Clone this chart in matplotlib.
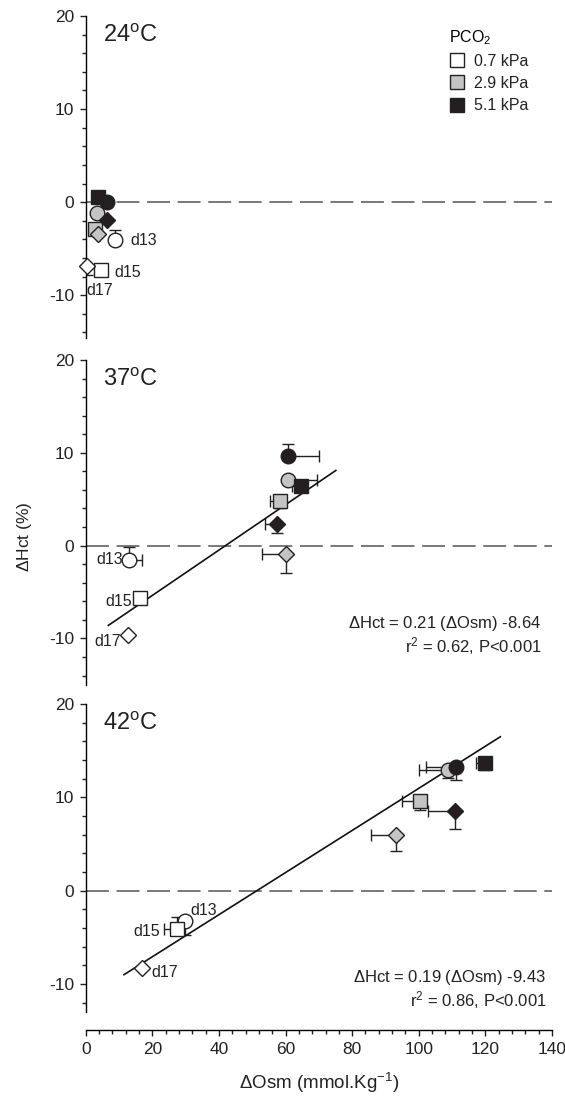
import matplotlib
matplotlib.use('Agg')
import matplotlib.pyplot as plt
from matplotlib.lines import Line2D
from matplotlib.ticker import MultipleLocator

plt.rcParams['font.family'] = ['Liberation Sans', 'DejaVu Sans']
plt.rcParams['mathtext.fontset'] = 'custom'
plt.rcParams['mathtext.rm'] = 'Liberation Sans'
plt.rcParams['mathtext.it'] = 'Liberation Sans:italic'
plt.rcParams['axes.unicode_minus'] = False

# rows: d13 (circle), d15 (square), d17 (diamond); columns: PCO2 0.7, 2.9, 5.1 kPa
days = ['d13', 'd15', 'd17']
pco2_labels = ['0.7 kPa', '2.9 kPa', '5.1 kPa']

osm_24 = [[8.8, 3.3, 6.3], [4.5, 2.8, 3.8], [0.5, 3.8, 6.3]]
hct_24 = [[-4.1, -1.15, 0.0], [-7.3, -2.9, 0.5], [-6.9, -3.4, -1.9]]
osm_err_24 = [[1.5, 0, 0], [0, 0, 0], [0, 0, 0]]
hct_err_24 = [[1.1, 0, 0.3], [0, 0, 0.5], [-0.9, 0, 0]]

osm_37 = [[13.0, 60.6, 60.8], [16.3, 58.3, 64.6], [12.8, 60.0, 57.5]]
hct_37 = [[-1.5, 7.1, 9.7], [-5.6, 4.8, 6.4], [-9.6, -0.9, 2.3]]
osm_err_37 = [[3.8, 8.7, 9.3], [0, -3.0, -2.8], [0, -7.0, -3.7]]
hct_err_37 = [[1.3, 0, 1.2], [0, -0.8, 0], [0, -2.0, -0.9]]

osm_42 = [[29.8, 108.8, 111.3], [27.5, 100.5, 119.8], [17.0, 93.1, 111.0]]
hct_42 = [[-3.3, 12.9, 13.3], [-4.1, 9.6, 13.7], [-8.3, 6.0, 8.5]]
osm_err_42 = [[0, -8.7, -9.0], [-4.0, -5.4, -2.5], [0, -7.3, -8.2]]
hct_err_42 = [[-1.5, -0.8, -1.4], [1.3, -0.9, -0.8], [0, -1.7, -1.9]]

fit_37_x = [6.8, 75.1]
fit_37_y = [-8.6, 8.1]
fit_42_x = [11.5, 124.5]
fit_42_y = [-9.0, 16.5]

temps = ['24', '37', '42']

markers = ['o', 's', 'D']
msizes = [10.5, 9.8, 8.3]
fills = ['white', '#c4c4c4', '#231f20']

fig = plt.figure(figsize=(5.65, 10.96), dpi=100)
W, H = 565.0, 1096.0
left = 85.7 / W
width = (552.0 - 85.7) / W

# (top px, bottom px, ylim bottom)
panel_px = [(16.0, 338.0, -14.6), (360.0, 684.8, -15.0), (704.1, 1012.0, -13.0)]
axes = []
for top, bot, ymin in panel_px:
    ax = fig.add_axes([left, 1 - bot / H, width, (bot - top) / H])
    ax.set_xlim(0, 140)
    ax.set_ylim(ymin, 20)
    for s in ['top', 'right']:
        ax.spines[s].set_visible(False)
    ax.spines['left'].set_linewidth(1.0)
    ax.yaxis.set_major_locator(MultipleLocator(10))
    ax.yaxis.set_minor_locator(MultipleLocator(2))
    ax.tick_params(axis='y', which='major', direction='out', length=4.5, width=1.0,
                   labelsize=12.5, pad=4, colors='#222222')
    ax.tick_params(axis='y', which='minor', direction='out', length=3, width=1.0, colors='#222222')
    ax.axhline(0, color='#555555', lw=1.1, dashes=(15, 5))
    axes.append(ax)

for ax in axes[:2]:
    ax.spines['bottom'].set_visible(False)
    ax.tick_params(axis='x', which='both', bottom=False, labelbottom=False)

axb = axes[2]
axb.spines['bottom'].set_position(('outward', 13))
axb.spines['bottom'].set_linewidth(1.0)
axb.xaxis.set_major_locator(MultipleLocator(20))
axb.xaxis.set_minor_locator(MultipleLocator(4))
axb.tick_params(axis='x', which='major', direction='out', length=4.5, width=1.0,
                labelsize=12.5, pad=4, colors='#222222')
axb.tick_params(axis='x', which='minor', direction='out', length=3, width=1.0, colors='#222222')

data = [(osm_24, hct_24, osm_err_24, hct_err_24),
        (osm_37, hct_37, osm_err_37, hct_err_37),
        (osm_42, hct_42, osm_err_42, hct_err_42)]

for ax, (xs, ys, xe, ye) in zip(axes, data):
    for i in range(3):
        for j in range(3):
            ex, ey = xe[i][j], ye[i][j]
            xerr = [[max(-ex, 0)], [max(ex, 0)]] if ex != 0 else None
            yerr = [[max(-ey, 0)], [max(ey, 0)]] if ey != 0 else None
            if xerr is not None or yerr is not None:
                ax.errorbar([xs[i][j]], [ys[i][j]], xerr=xerr, yerr=yerr, fmt='none',
                            ecolor='#222222', elinewidth=1.0, capsize=4, capthick=1.0, zorder=2)
            ax.plot(xs[i][j], ys[i][j], marker=markers[i], ms=msizes[i], mfc=fills[j],
                    mec='#222222', mew=1.0, ls='none', zorder=3 + j, clip_on=False)

axes[1].plot(fit_37_x, fit_37_y, color='#111111', lw=1.2, zorder=2.5)
axes[2].plot(fit_42_x, fit_42_y, color='#111111', lw=1.2, zorder=2.5)

# temperature labels
for ax, t in zip(axes, temps):
    ax.text(5.2, 17.9, t + r'$^{\mathrm{o}}$C', fontsize=17, ha='left', va='center', color='#222222')

# day labels
lab_kw = dict(fontsize=11.5, va='center', color='#222222')
axes[0].text(13.3, -4.1, 'd13', ha='left', **lab_kw)
axes[0].text(8.5, -7.6, 'd15', ha='left', **lab_kw)
axes[0].text(0.3, -9.5, 'd17', ha='left', **lab_kw)
axes[1].text(11.3, -1.5, 'd13', ha='right', **lab_kw)
axes[1].text(13.8, -6.0, 'd15', ha='right', **lab_kw)
axes[1].text(10.6, -10.3, 'd17', ha='right', **lab_kw)
axes[2].text(31.3, -2.1, 'd13', ha='left', **lab_kw)
axes[2].text(22.3, -4.4, 'd15', ha='right', **lab_kw)
axes[2].text(19.8, -8.8, 'd17', ha='left', **lab_kw)

# regression equations
eq_kw = dict(fontsize=12, ha='right', va='center', color='#222222')
axes[1].text(136.8, -8.4, r'$\Delta$Hct = 0.21 ($\Delta$Osm) -8.64', **eq_kw)
axes[1].text(136.8, -10.8, r'r$^{2}$ = 0.62, P<0.001', **eq_kw)
axes[2].text(138.3, -9.3, r'$\Delta$Hct = 0.19 ($\Delta$Osm) -9.43', **eq_kw)
axes[2].text(138.3, -11.7, r'r$^{2}$ = 0.86, P<0.001', **eq_kw)

# legend
handles = [Line2D([], [], marker='s', ms=10.5, mfc=f, mec='#222222', mew=1.0, ls='none')
           for f in fills]
leg = axes[0].legend(handles, pco2_labels, title=r'PCO$_2$', loc='upper left',
                     bbox_to_anchor=(0.779, 0.963), frameon=False, fontsize=11.5,
                     title_fontsize=11.5, handlelength=0.95, handletextpad=0.6,
                     labelspacing=0.45, borderpad=0, borderaxespad=0, alignment='left')
for txt in leg.get_texts():
    txt.set_color('#222222')

fig.text(25 / W, 1 - 537 / H, r'$\Delta$Hct (%)', rotation=90, fontsize=12.5,
         ha='center', va='center', color='#222222')
fig.text((85.7 + 552.0) / 2 / W, 1 - 1083 / H, r'$\Delta$Osm (mmol.Kg$^{-1}$)', fontsize=13.5,
         ha='center', va='center', color='#222222')

fig.savefig('out.png', dpi=100)
